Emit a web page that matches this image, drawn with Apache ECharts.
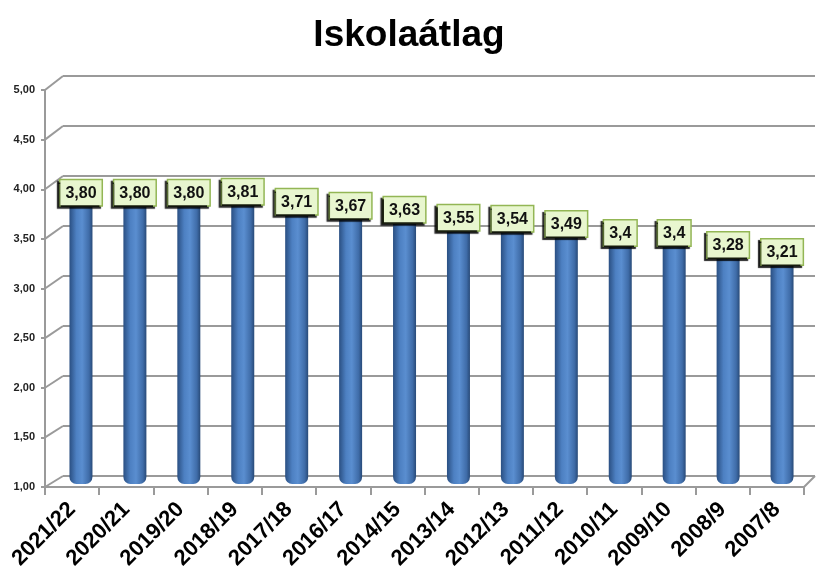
<!DOCTYPE html>
<html>
<head>
<meta charset="utf-8">
<script src="https://cdn.jsdelivr.net/npm/echarts@6/dist/echarts.min.js"></script>
<style>html,body{margin:0;padding:0;background:#fff;}#c{width:818px;height:583px;}</style>
</head>
<body>
<div id="c"></div>
<script>
const categories = ['2021/22','2020/21','2019/20','2018/19','2017/18','2016/17','2014/15','2013/14','2012/13','2011/12','2010/11','2009/10','2008/9','2007/8'];
const values = [3.80,3.80,3.80,3.81,3.71,3.67,3.63,3.55,3.54,3.49,3.4,3.4,3.28,3.21];
const valueLabels = ['3,80','3,80','3,80','3,81','3,71','3,67','3,63','3,55','3,54','3,49','3,4','3,4','3,28','3,21'];
const yTicks = [1,1.5,2,2.5,3,3.5,4,4.5,5];
const yMin = 1, yMax = 5, yStep = 0.5;

const BACK = {left:63, right:3, top:76, bottom:107};
const MID = {left:54, right:9, top:83, bottom:99};
const FRONT = {left:45, right:14, top:90, bottom:96};
const gridColor = '#9a9a9a';
const font = '"Liberation Sans", Arial, sans-serif';

const chart = echarts.init(document.getElementById('c'));
function fmt(v){ return v.toFixed(2).replace('.', ','); }

chart.setOption({
  animation:false,
  title:{text:'Iskolaátlag', left:'center', top:12,
    textStyle:{fontFamily:font, fontWeight:'bold', fontSize:37, color:'#000'}},
  grid:[
    Object.assign({containLabel:false}, BACK),
    Object.assign({containLabel:false}, MID),
    Object.assign({containLabel:false}, FRONT)
  ],
  xAxis:[
    {gridIndex:0, type:'category', data:categories, show:false},
    {gridIndex:1, type:'category', data:categories, show:false},
    {gridIndex:2, type:'category', data:categories, boundaryGap:true,
      axisLine:{show:true, lineStyle:{color:gridColor, width:2}},
      axisTick:{show:true, length:8, lineStyle:{color:gridColor, width:2}},
      axisLabel:{rotate:45, margin:19, fontFamily:font, fontWeight:'bold', fontSize:22, color:'#000', interval:0},
      splitLine:{show:false}}
  ],
  yAxis:[
    {gridIndex:0, type:'value', min:yMin, max:yMax, interval:yStep,
      axisLine:{show:false}, axisTick:{show:false}, axisLabel:{show:false},
      splitLine:{show:true, lineStyle:{color:gridColor, width:2}}},
    {gridIndex:1, type:'value', min:yMin, max:yMax, interval:yStep, show:false, splitLine:{show:false}},
    {gridIndex:2, type:'value', min:yMin, max:yMax, interval:yStep,
      axisLine:{show:true, lineStyle:{color:gridColor, width:2}},
      axisTick:{show:true, length:4, lineStyle:{color:gridColor, width:2}},
      axisLabel:{margin:10, fontFamily:font, fontWeight:'bold', fontSize:11, color:'#222', formatter:fmt},
      splitLine:{show:false}}
  ],
  series:[{
    type:'bar', xAxisIndex:1, yAxisIndex:1, data:values, barWidth:23,
    itemStyle:{
      borderRadius:[0,0,7,7],
      color:new echarts.graphic.LinearGradient(0,0,1,0,[
        {offset:0, color:'#2a4f82'},
        {offset:0.3, color:'#4d80c2'},
        {offset:0.55, color:'#5a8ed0'},
        {offset:0.85, color:'#3f6ca8'},
        {offset:1, color:'#284a78'}
      ])
    },
    label:{
      show:true, position:'top', distance:-2,
      formatter:(p)=>valueLabels[p.dataIndex],
      fontFamily:font, fontWeight:'bold', fontSize:16, color:'#111',
      backgroundColor:'#e8f6cf', borderColor:'#93b655', borderWidth:1.5,
      padding:[5,5,4,5],
      shadowColor:'rgba(0,0,0,0.85)', shadowBlur:1, shadowOffsetX:-2, shadowOffsetY:2
    }
  }]
});

// pseudo-3D connectors between front axis and back wall
const g = [];
yTicks.forEach(v=>{
  const yf = chart.convertToPixel({yAxisIndex:2}, v);
  const yb = chart.convertToPixel({yAxisIndex:0}, v);
  g.push({type:'line', shape:{x1:FRONT.left, y1:yf, x2:BACK.left, y2:yb},
    style:{stroke:gridColor, lineWidth:2}, z:1});
});
const yf0 = chart.convertToPixel({yAxisIndex:2}, yMin);
const yb0 = chart.convertToPixel({yAxisIndex:0}, yMin);
g.push({type:'line', shape:{x1:818-FRONT.right, y1:yf0, x2:818-BACK.right, y2:yb0},
  style:{stroke:gridColor, lineWidth:2}, z:1});
chart.setOption({graphic:g});
</script>
</body>
</html>
